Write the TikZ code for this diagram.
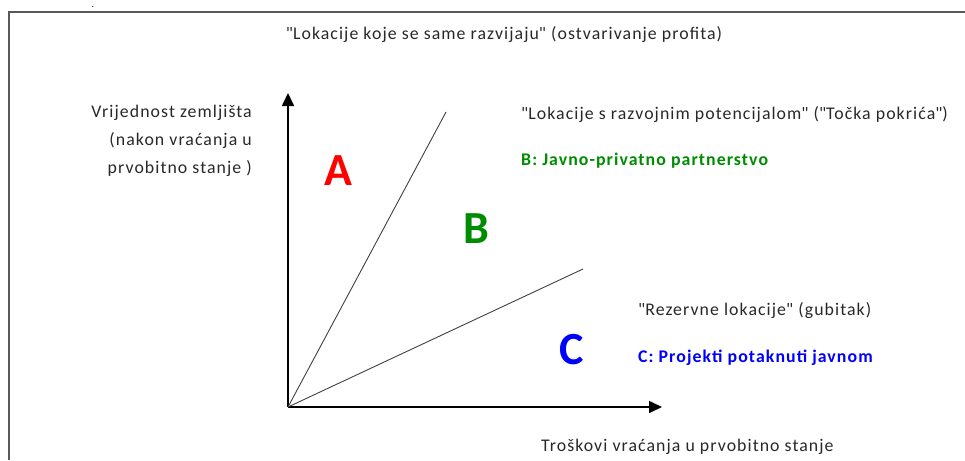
\documentclass[tikz,border=0pt]{standalone}
\usepackage{fontspec}
\setmainfont{Carlito}[LetterSpace=6]
\usepackage{tikz}
\usetikzlibrary{arrows.meta}
\definecolor{txtgray}{RGB}{40,40,40}
\definecolor{zoneA}{RGB}{255,0,0}
\definecolor{zoneB}{RGB}{0,140,0}
\definecolor{zoneC}{RGB}{0,0,255}

\begin{document}
\begin{tikzpicture}[x=1pt,y=-1pt,
  lbl/.style={font=\fontsize{17.8}{20}\selectfont,text=txtgray,inner sep=0pt},
  zone/.style={font=\fontsize{46}{46}\selectfont\bfseries,inner sep=0pt},
  note/.style={font=\fontsize{17.8}{20}\selectfont\bfseries,inner sep=0pt,anchor=west},
  axis/.style={line width=1.6pt,-{Triangle[length=13pt,width=12pt]}},
  ray/.style={line width=0.9pt,draw=black!75}]
  \useasboundingbox (0,0) rectangle (965,460);

  % frame
  \draw[line width=2pt,draw=black!65] (9,460) -- (9,12) -- (965,12);
  \node[inner sep=0pt,anchor=base,text=zoneC,font=\fontsize{10}{10}\selectfont] (dot) at (93,8) {.};

  % axes
  \coordinate (o) at (288,407);
  \coordinate (ytip) at (288,93);
  \coordinate (xtip) at (662,407);
  \draw[axis] (o) -- (ytip);
  \draw[axis] (o) -- (xtip);

  % rays
  \coordinate (r1) at (446,112);
  \coordinate (r2) at (583,269);
  \draw[ray] (o) -- (r1);
  \draw[ray] (o) -- (r2);

  % zones
  \node[zone,text=zoneA] (A) at (338,171) {A};
  \node[zone,text=zoneB] (B) at (476,229) {B};
  \node[zone,text=zoneC] (C) at (572,350) {C};

  % texts
  \node[lbl] (top) at (504,35) {\textquotedbl Lokacije koje se same razvijaju\textquotedbl{} (ostvarivanje profita)};
  \node[lbl,align=right,anchor=east,font=\fontsize{17.8}{28}\selectfont] (ylab) at (252,141)
    {Vrijednost zemljišta\\(nakon vraćanja u\\prvobitno stanje )};
  \node[lbl,anchor=west] (potent) at (521,115) {\textquotedbl Lokacije s razvojnim potencijalom\textquotedbl{} (\textquotedbl Točka pokrića\textquotedbl)};
  \node[note,text=zoneB] (ppp) at (521,161) {B: Javno-privatno partnerstvo};
  \node[lbl,anchor=west] (rezerv) at (638,311) {\textquotedbl Rezervne lokacije\textquotedbl{} (gubitak)};
  \node[note,text=zoneC] (proj) at (638,358) {C: Projekti potaknuti javnom};
  \node[lbl,anchor=west] (xlab) at (541,447) {Troškovi vraćanja u prvobitno stanje};
\end{tikzpicture}
\end{document}
